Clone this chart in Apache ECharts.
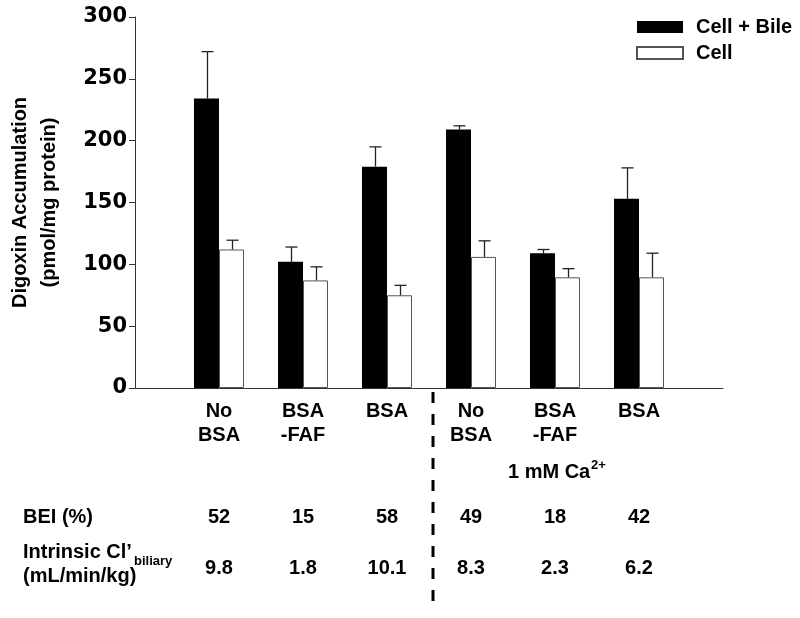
<!DOCTYPE html>
<html>
<head>
<meta charset="utf-8">
<script src="https://cdn.jsdelivr.net/npm/echarts@6/dist/echarts.min.js"></script>
<style>
  html, body { margin: 0; padding: 0; background: #fff; }
  #chart { width: 800px; height: 618px; }
</style>
</head>
<body>
<div id="chart"></div>
<script>
// categories (first and last slots are empty so the groups sit on ticks 1..6)
var categories = ['', 'No\nBSA', 'BSA\n-FAF', 'BSA', 'No\nBSA', 'BSA\n-FAF', 'BSA', ''];
var bileValues = [234, 102, 179, 209, 109, 153];   // Cell + Bile
var bileErrTop = [272, 114, 195, 212, 112, 178];
var cellValues = [112, 87, 75, 106, 89.5, 89.5];   // Cell
var cellErrTop = [119.5, 98, 83, 119, 96.5, 109];
var yTicks = [0, 50, 100, 150, 200, 250, 300];
var beiValues = ['52', '15', '58', '49', '18', '42'];
var clValues = ['9.8', '1.8', '10.1', '8.3', '2.3', '6.2'];

var FONT = 'Liberation Sans, Arial, sans-serif';
var BAR_W = 25;

var toPairs = function(arr) {
  return arr.map(function(v, i) { return [i + 1, v]; });
};
var toErr = function(vals, tops) {
  return vals.map(function(v, i) { return [i + 1, v, tops[i]]; });
};

// 误差线
var errRenderer = function(offset) {
  return function(params, api) {
    var base = api.coord([api.value(0), api.value(1)]);
    var top = api.coord([api.value(0), api.value(2)]);
    var x = Math.round(base[0] + offset) + 0.5;
    var st = { stroke: '#222', lineWidth: 1.3 };
    return {
      type: 'group',
      children: [
        { type: 'line', shape: { x1: x, y1: base[1], x2: x, y2: top[1] }, style: st },
        { type: 'line', shape: { x1: x - 6, y1: top[1], x2: x + 6, y2: top[1] }, style: st }
      ]
    };
  };
};

var chart = echarts.init(document.getElementById('chart'));

var option = {
  animation: false,
  backgroundColor: '#fff',
  grid: { left: 135, right: 77, top: 17, bottom: 230, outerBoundsMode: 'none', containLabel: false },
  legend: {
    orient: 'vertical',
    left: 636,
    top: 17,
    padding: 0,
    itemWidth: 46,
    itemHeight: 12,
    itemGap: 6,
    icon: 'rect',
    textStyle: { fontFamily: FONT, fontSize: 20, fontWeight: 'bold', color: '#000', padding: [0, 0, 0, 8] },
    data: ['Cell + Bile', 'Cell']
  },
  xAxis: {
    type: 'category',
    data: categories,
    boundaryGap: false,
    axisLine: { lineStyle: { color: '#333', width: 1 } },
    axisTick: { show: false },
    axisLabel: {
      interval: 0,
      margin: 11,
      fontFamily: FONT,
      fontSize: 20,
      fontWeight: 'bold',
      color: '#000',
      lineHeight: 24
    }
  },
  yAxis: {
    type: 'value',
    min: 0,
    max: 300,
    interval: 50,
    name: 'Digoxin Accumulation\n(pmol/mg protein)',
    nameLocation: 'middle',
    nameRotate: 90,
    nameGap: 71,
    nameTextStyle: { fontFamily: FONT, fontSize: 20, fontWeight: 'bold', color: '#000', lineHeight: 29 },
    splitLine: { show: false },
    axisLine: { show: true, lineStyle: { color: '#333', width: 1 } },
    axisTick: { show: true, length: 6, lineStyle: { color: '#333' } },
    axisLabel: {
      margin: 8,
      fontFamily: 'DejaVu Sans, sans-serif',
      fontSize: 21,
      fontWeight: 'bold',
      color: '#000',
      formatter: function(v) { return yTicks.indexOf(v) >= 0 ? String(v) : ''; }
    }
  },
  series: [
    {
      name: 'Cell + Bile',
      type: 'bar',
      barWidth: BAR_W,
      barGap: '0%',
      itemStyle: { color: '#000' },
      data: toPairs(bileValues)
    },
    {
      name: 'Cell',
      type: 'bar',
      barWidth: BAR_W,
      barGap: '0%',
      itemStyle: { color: '#fff', borderColor: '#555', borderWidth: 1 },
      data: toPairs(cellValues)
    },
    {
      type: 'custom',
      z: 5,
      renderItem: errRenderer(-BAR_W / 2),
      data: toErr(bileValues, bileErrTop)
    },
    {
      type: 'custom',
      z: 5,
      renderItem: errRenderer(BAR_W / 2),
      data: toErr(cellValues, cellErrTop)
    }
  ]
};

chart.setOption(option);

// 表格文字 (BEI / Intrinsic Cl)
var txt = function(x, y, text, size, align) {
  return {
    type: 'text',
    x: x, y: y,
    style: {
      text: text,
      fontFamily: FONT,
      fontSize: size,
      fontWeight: 'bold',
      fill: '#000',
      align: align || 'left',
      verticalAlign: 'middle'
    }
  };
};

var elements = [];
elements.push(txt(23, 517, 'BEI (%)', 20));
elements.push(txt(23, 552, 'Intrinsic Cl\u2019', 20));
elements.push(txt(134, 561, 'biliary', 13));
elements.push(txt(23, 576, '(mL/min/kg)', 20));
for (var i = 0; i < beiValues.length; i++) {
  var px = chart.convertToPixel({ xAxisIndex: 0 }, i + 1);
  elements.push(txt(px, 517, beiValues[i], 20, 'center'));
  elements.push(txt(px, 568, clValues[i], 20, 'center'));
}
elements.push(txt(508, 472, '1 mM Ca', 20, 'left'));
elements.push(txt(591, 465, '2+', 13, 'left'));
elements.push({
  type: 'line',
  shape: { x1: 433, y1: 392, x2: 433, y2: 612 },
  style: { stroke: '#000', lineWidth: 3, lineDash: [11, 11] }
});

chart.setOption({ graphic: { elements: elements } });
</script>
</body>
</html>
